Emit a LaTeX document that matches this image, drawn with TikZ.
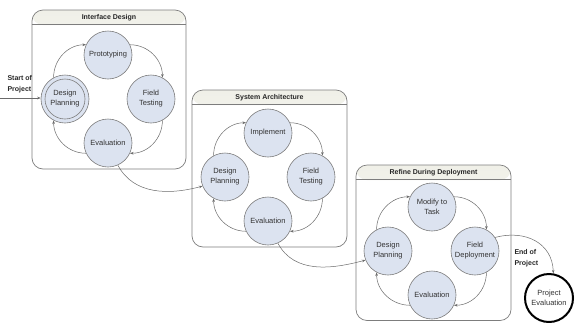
\documentclass[tikz,border=0pt]{standalone}
\usepackage{fontspec}
\setmainfont{Liberation Sans}
\usetikzlibrary{arrows.meta}
\definecolor{cfill}{RGB}{220,227,240}
\definecolor{cline}{RGB}{125,125,125}
\definecolor{txt}{RGB}{50,50,50}
\definecolor{hdr}{RGB}{240,240,232}
\tikzset{
  frame/.style={draw=cline, line width=0.7pt, rounded corners=11pt, fill=white,
    path picture={\shade[top color=hdr, bottom color=white]
      (path picture bounding box.north west) rectangle ([yshift=-15pt]path picture bounding box.north east);}},
  hline/.style={draw=cline, line width=0.6pt},
  state/.style={circle, draw=cline, line width=0.6pt, fill=cfill, minimum size=48pt,
    inner sep=0pt, align=center, font=\fontsize{7.5}{10}\selectfont, text=txt},
  flow/.style={draw=cline!85!black, line width=0.5pt, -{Stealth[length=3.5pt,width=2.6pt]}},
  boxtitle/.style={font=\bfseries\fontsize{7}{8}\selectfont, text=black!85},
  note/.style={font=\bfseries\fontsize{7}{11}\selectfont, align=left, text=black!85},
}
\begin{document}
\begin{tikzpicture}[x=1pt,y=1pt]
\useasboundingbox (0,0) rectangle (575,-322);

% frames
\node[frame, minimum width=154pt, minimum height=159pt] (f1) at (109,-89.5) {};
\node[frame, minimum width=155pt, minimum height=157pt] (f2) at (269.5,-168.5) {};
\node[frame, minimum width=155pt, minimum height=155.5pt] (f3) at (433.5,-242.75) {};
\draw[hline] ([yshift=-15pt]f1.north west) -- ([yshift=-15pt]f1.north east);
\draw[hline] ([yshift=-15pt]f2.north west) -- ([yshift=-15pt]f2.north east);
\draw[hline] ([yshift=-15pt]f3.north west) -- ([yshift=-15pt]f3.north east);
\node[boxtitle] (t1) at (109,-17.5) {Interface Design};
\node[boxtitle] (t2) at (269.5,-97.5) {System Architecture};
\node[boxtitle] (t3) at (433.5,-172.5) {Refine During Deployment};

% box 1
\node[state] (T1) at (108,-55) {Prototyping};
\node[state] (R1) at (151,-99) {Field\\Testing};
\node[state] (B1) at (108,-143) {Evaluation};
\node[state] (L1) at (65,-99) {Design\\Planning};
\draw[cline, line width=0.6pt] (L1.center) circle[radius=20pt];

% box 2
\node[state] (T2) at (268,-133) {Implement};
\node[state] (R2) at (311,-177) {Field\\Testing};
\node[state] (B2) at (268,-221) {Evaluation};
\node[state] (L2) at (225,-177) {Design\\Planning};

% box 3
\node[state] (T3) at (432,-207) {Modify to\\Task};
\node[state] (R3) at (475,-251) {Field\\Deployment};
\node[state] (B3) at (432,-295) {Evaluation};
\node[state] (L3) at (388,-251) {Design\\Planning};

% final
\node[state, fill=white, draw=black, line width=2pt, minimum size=48pt] (PE) at (549,-298) {Project\\Evaluation};

% cycles
\foreach \i in {1,2,3}{
  \draw[flow] (L\i.118) to[out=90,in=180] (T\i.155);
  \draw[flow] (T\i.25) to[out=0,in=90] (R\i.62);
  \draw[flow] (R\i.-62) to[out=-90,in=0] (B\i.-25);
  \draw[flow] (B\i.205) to[out=180,in=-90] (L\i.-118);
}

% between boxes
\coordinate (start) at (0,-98);
\draw[flow] (start) -- (L1.west |- start);
\node[note, anchor=west] (sp) at (4,-84) {Start of\\Project};
\draw[flow] (B1.-66) to[out=-62,in=195] (L2.202);
\draw[flow] (B2.-66) to[out=-62,in=195] (L3.202);
\draw[flow] (R3.34) to[out=15,in=92,looseness=1.15] (PE.80);
\node[note, anchor=west] (ep) at (511,-258.5) {End of\\Project};
\end{tikzpicture}
\end{document}
